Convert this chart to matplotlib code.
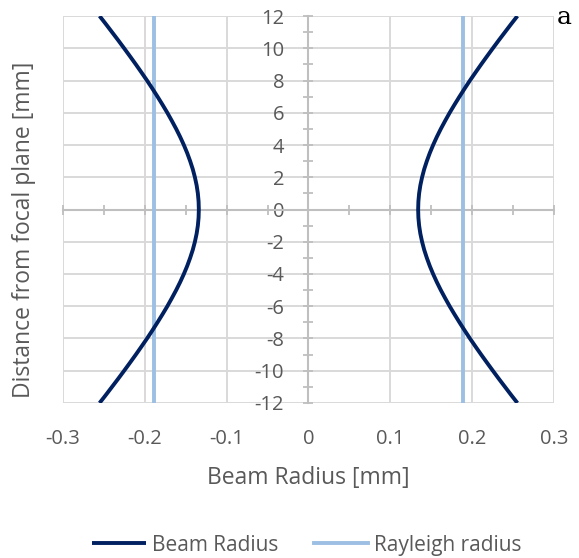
import numpy as np
import matplotlib
matplotlib.use("Agg")
import matplotlib.pyplot as plt
from matplotlib.ticker import MultipleLocator, FixedLocator, FuncFormatter

# distance from focal plane [mm] and beam radius [mm]
z = [-12, -11.5, -11, -10.5, -10, -9.5, -9, -8.5, -8, -7.5, -7, -6.5, -6, -5.5, -5, -4.5,
     -4, -3.5, -3, -2.5, -2, -1.5, -1, -0.5, 0,
     0.5, 1, 1.5, 2, 2.5, 3, 3.5, 4, 4.5, 5, 5.5, 6, 6.5, 7, 7.5,
     8, 8.5, 9, 9.5, 10, 10.5, 11, 11.5, 12]
w = [0.2553, 0.2476, 0.2401, 0.2326, 0.2253, 0.2181, 0.2110, 0.2041, 0.1973, 0.1908,
     0.1845, 0.1784, 0.1725, 0.1670, 0.1617, 0.1568, 0.1523, 0.1482, 0.1446, 0.1414,
     0.1388, 0.1367, 0.1352, 0.1343, 0.1340,
     0.1343, 0.1352, 0.1367, 0.1388, 0.1414, 0.1446, 0.1482, 0.1523, 0.1568, 0.1617,
     0.1670, 0.1725, 0.1784, 0.1845, 0.1908, 0.1973, 0.2041, 0.2110, 0.2181, 0.2253,
     0.2326, 0.2401, 0.2476, 0.2553]
rayleigh_r = 0.189
rayleigh_z = [-12, 12]
x_ticks = [-0.3, -0.2, -0.1, 0, 0.1, 0.2, 0.3]
x_tick_labels = ["-0.3", "-0.2", "-0.1", "0", "0.1", "0.2", "0.3"]

navy = "#002060"
light = "#9dbfe3"
txt = "#595959"
grid_c = "#d9d9d9"
axis_c = "#bfbfbf"

plt.rcParams['font.family'] = ['Open Sans', 'DejaVu Sans']

fig = plt.figure(figsize=(5.79, 5.58), dpi=100)
ax = fig.add_axes([0.1088, 0.2778, 0.848, 0.6935])

w_arr = np.array(w)
ax.plot(w_arr, z, color=navy, lw=2.8, label="Beam Radius", zorder=4,
        solid_joinstyle='round', solid_capstyle='butt')
ax.plot(-w_arr, z, color=navy, lw=2.8, zorder=4, solid_joinstyle='round', solid_capstyle='butt')
ax.plot([rayleigh_r] * 2, rayleigh_z, color=light, lw=2.8, label="Rayleigh radius", zorder=3)
ax.plot([-rayleigh_r] * 2, rayleigh_z, color=light, lw=2.8, zorder=3)

ax.set_xlim(-0.3, 0.3)
ax.set_ylim(-12, 12)

ax.xaxis.set_major_locator(FixedLocator(x_ticks))
ax.xaxis.set_minor_locator(MultipleLocator(0.05))
ax.yaxis.set_major_locator(MultipleLocator(2))
ax.yaxis.set_minor_locator(MultipleLocator(1))
ax.grid(True, which='major', color=grid_c, lw=1.4, zorder=0)
ax.set_axisbelow(True)

for s in ['top', 'right']:
    ax.spines[s].set_visible(False)
ax.spines['left'].set_position(('data', 0))
ax.spines['bottom'].set_position(('data', 0))
for s in ['left', 'bottom']:
    ax.spines[s].set_color(axis_c)
    ax.spines[s].set_linewidth(1.5)
    ax.spines[s].set_zorder(2)

ax.tick_params(axis='both', which='both', direction='inout', color=axis_c, width=1.3, length=7)
ax.tick_params(axis='x', labelbottom=False)
ax.tick_params(axis='y', labelsize=14.5, labelcolor=txt, pad=14)
ax.yaxis.set_major_formatter(FuncFormatter(lambda v, p: f"{v:g}"))

sec = ax.secondary_xaxis('bottom')
sec.spines['bottom'].set_visible(False)
sec.set_xticks(x_ticks, x_tick_labels)
sec.tick_params(length=0, labelsize=14.5, labelcolor=txt, pad=19)
sec.set_xlabel("Beam Radius [mm]", fontsize=16.5, color=txt, labelpad=12)

ax.set_ylabel("Distance from focal plane [mm]", fontsize=16.5, color=txt)
ax.yaxis.set_label_coords(-0.055, 0.448)

fig.text(0.988, 0.968, "a", family="DejaVu Serif", fontsize=18, ha="right", va="center", color="black")

fig.legend(loc='center', bbox_to_anchor=(0.53, 0.023), ncol=2, frameon=False,
           fontsize=15, labelcolor=txt, handlelength=2.6, handletextpad=0.3, columnspacing=1.7)

fig.savefig("out.png", dpi=100)
